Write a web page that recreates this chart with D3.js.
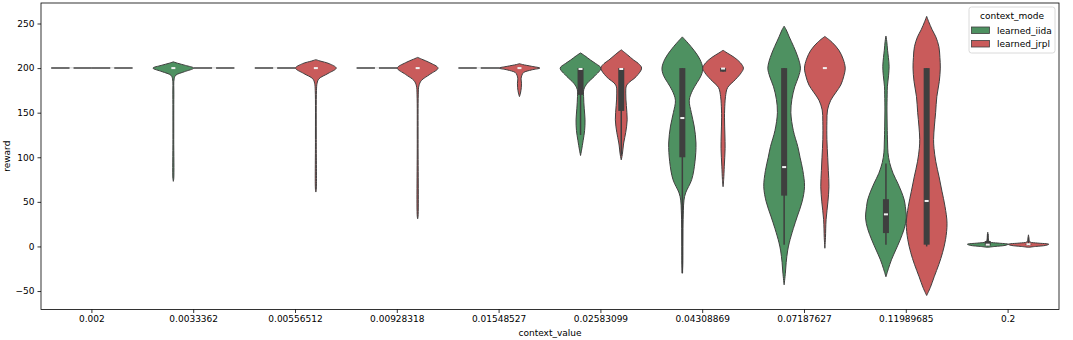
<!DOCTYPE html>
<html lang="en">
<head>
<meta charset="utf-8">
<title>reward by context_value</title>
<script src="https://d3js.org/d3.v7.min.js"></script>
<style>
  body { margin: 0; background: #fff; }
  text { font-family: "DejaVu Sans", sans-serif; fill: #000; }
</style>
</head>
<body>
<div id="chart"></div>
<script>

// categories on the x axis
const categories = ["0.002", "0.0033362", "0.00556512", "0.00928318", "0.01548527",
                    "0.02583099", "0.04308869", "0.07187627", "0.11989685", "0.2"];
const modes = ["learned_iida", "learned_jrpl"];
const colors = ["#4e9161", "#c95b5b"];
const yTicks = [-50, 0, 50, 100, 150, 200, 250];

// violin outlines: [reward, relative half width]
// a single point means every run had the same reward (drawn as a flat line)
const iidaShapes = [
  [[200, 1]],
  [[73,0],[76,0.02],[120,0.02],[170,0.025],[188,0.04],[192,0.12],[196,0.55],[200,1],[203,0.6],[205.5,0.2],[207,0]],
  [[200, 1]],
  [[200, 1]],
  [[200, 1]],
  [[102,0],[108,0.05],[119,0.13],[130,0.2],[142,0.22],[155,0.18],[168,0.15],[176,0.16],[183,0.33],[191,0.69],[200,1],[205,0.75],[209,0.49],[214,0.2],[217,0]],
  [[-30,0],[-20,0.02],[0,0.025],[20,0.03],[40,0.05],[52,0.08],[60,0.16],[75,0.46],[95,0.62],[116,0.67],[135,0.58],[150,0.44],[164,0.34],[175,0.5],[184,0.73],[192,0.93],[200,1],[210,0.86],[220,0.57],[228,0.28],[232,0.12],[235,0]],
  [[-43,0],[-30,0.06],[-18,0.1],[-5,0.17],[4,0.25],[20,0.45],[34,0.65],[50,0.88],[67,1],[85,0.92],[100,0.78],[112,0.67],[130,0.45],[150,0.33],[165,0.38],[179,0.52],[190,0.7],[200,0.8],[212,0.68],[224,0.47],[235,0.25],[243,0.1],[247,0]],
  [[-34,0],[-25,0.12],[-15,0.27],[-4,0.48],[7,0.69],[20,0.9],[32,1],[45,0.95],[52,0.9],[62,0.75],[71,0.58],[82,0.35],[94,0.18],[105,0.1],[116,0.08],[135,0.06],[153,0.05],[170,0.06],[179,0.07],[192,0.13],[202,0.155],[212,0.12],[220,0.08],[230,0.04],[236,0]],
  [[-1,0],[0,0.35],[1.2,0.85],[2.5,1],[3.8,0.5],[5,0.1],[7,0.04],[10,0.025],[14,0.015],[16,0]]
];
const jrplShapes = [
  [[200, 1]],
  [[200, 1]],
  [[61,0],[64,0.02],[120,0.02],[175,0.03],[183,0.06],[188,0.15],[194,0.6],[200,1],[205,0.65],[208,0.2],[209.5,0]],
  [[31,0],[34,0.02],[120,0.02],[170,0.03],[180,0.06],[186,0.18],[193,0.6],[200,1],[206,0.6],[210,0.2],[212,0]],
  [[168,0],[172,0.05],[178,0.09],[183,0.1],[188,0.08],[192,0.12],[195,0.2],[198,0.6],[200,1],[202,0.6],[204,0.15],[205,0]],
  [[97,0],[103,0.05],[116,0.12],[128,0.22],[142,0.29],[158,0.25],[172,0.22],[181,0.27],[190.6,0.74],[200,1],[205,0.85],[209,0.61],[215,0.3],[220.5,0]],
  [[67,0],[75,0.03],[90,0.06],[110,0.1],[125,0.09],[145,0.07],[160,0.09],[168,0.12],[178,0.22],[187,0.6],[195,0.9],[200,1],[206,0.85],[212,0.55],[217,0.2],[220,0]],
  [[-2,0],[10,0.03],[30,0.06],[50,0.15],[67,0.2],[85,0.17],[100,0.14],[120,0.1],[140,0.1],[153,0.13],[164,0.29],[173,0.55],[181,0.78],[191,0.93],[200,1],[210,0.9],[220,0.69],[229,0.35],[235.5,0]],
  [[-55,0],[-46,0.18],[-34,0.37],[-20,0.6],[-7,0.78],[8,0.93],[26,1],[45,0.9],[62,0.75],[78,0.61],[95,0.45],[110,0.36],[120,0.34],[135,0.38],[150,0.44],[168,0.5],[185,0.62],[200,0.67],[212,0.65],[224,0.6],[235,0.45],[243,0.27],[252,0.1],[258,0]],
  [[-1,0],[0,0.35],[1.2,0.85],[2.5,1],[3.8,0.45],[5,0.08],[7,0.03],[10,0.02],[13,0]]
];

// inner box: [whisker low, q1, median, q3, whisker high]
const iidaBoxes = [
  [200,200,200,200,200], [200,200,200,200,200], [200,200,200,200,200],
  [200,200,200,200,200], [200,200,200,200,200],
  [125,170,199,200,200], [-30,100,144,200,200], [2,57,89,200,200],
  [2,15,36,53,93], [0,1,2,6,14]
];
const jrplBoxes = [
  [200,200,200,200,200], [200,200,200,200,200], [200,200,200,200,200],
  [200,200,200,200,200], [200,200,200,200,200],
  [102,152,199,200,200], [196,196,199.5,200,200], [200,200,200,200,200],
  [0,2,51,200,200], [1,2,2.5,3,10]
];

const shapes = [iidaShapes, jrplShapes];
const boxes = [iidaBoxes, jrplBoxes];

const width = 1073, height = 340;
const plotLeft = 41, plotRight = 1059, plotTop = 3, plotBottom = 309.5;
const lineColor = "#3f3f3f";

const svg = d3.select("#chart").append("svg")
    .attr("width", width)
    .attr("height", height);

const x = d3.scaleBand().domain(categories).range([plotLeft, plotRight]);
const hue = d3.scaleBand().domain(modes).range([0.1 * x.bandwidth(), 0.9 * x.bandwidth()]);
const w = d3.scaleLinear().domain([0, 1]).range([0, hue.bandwidth() / 2]);
const y = d3.scaleLinear().domain([-70.7, 273]).range([plotBottom, plotTop]);

// axes
const yAxis = svg.append("g")
    .attr("transform", `translate(${plotLeft},0)`)
    .call(d3.axisLeft(y).tickValues(yTicks).tickSize(3.5).tickPadding(3));
const xAxis = svg.append("g")
    .attr("transform", `translate(0,${plotBottom})`)
    .call(d3.axisBottom(x).tickSize(3.5).tickPadding(3));
[yAxis, xAxis].forEach(g => {
    g.select(".domain").remove();
    g.selectAll(".tick line").attr("stroke", "#000").attr("stroke-width", 0.8);
    g.selectAll(".tick text").style("font-size", "9px").attr("fill", "#000");
});

// violins
const area = d3.area()
    .curve(d3.curveCatmullRom)
    .y(d => y(d[0]));

modes.forEach((mode, m) => {
    categories.forEach((cat, i) => {
        const cx = x(cat) + hue(mode) + hue.bandwidth() / 2;
        const shape = shapes[m][i];
        const g = svg.append("g");

        if (shape.length === 1) {
            g.append("line")
                .attr("x1", cx - w(shape[0][1])).attr("x2", cx + w(shape[0][1]))
                .attr("y1", y(shape[0][0])).attr("y2", y(shape[0][0]))
                .attr("stroke", lineColor)
                .attr("stroke-width", 1.5);
        } else {
            g.append("path")
                .datum(shape)
                .attr("d", area.x0(d => cx - w(d[1])).x1(d => cx + w(d[1])))
                .attr("fill", colors[m])
                .attr("stroke", lineColor)
                .attr("stroke-width", 1);
        }

        const [lo, q1, med, q3, hi] = boxes[m][i];
        if (hi > lo) {
            g.append("line")
                .attr("x1", cx).attr("x2", cx)
                .attr("y1", y(hi)).attr("y2", y(lo))
                .attr("stroke", lineColor)
                .attr("stroke-width", 1.5);
        }
        if (q3 > q1) {
            g.append("rect")
                .attr("x", cx - 3).attr("width", 6)
                .attr("y", y(q3)).attr("height", y(q1) - y(q3))
                .attr("fill", lineColor);
        }
        g.append("rect")
            .attr("x", cx - 2).attr("width", 4)
            .attr("y", y(med) - 1).attr("height", 2)
            .attr("fill", "#f2f2f2");
    });
});

// frame
svg.append("rect")
    .attr("x", plotLeft).attr("y", plotTop)
    .attr("width", plotRight - plotLeft).attr("height", plotBottom - plotTop)
    .attr("fill", "none")
    .attr("stroke", "#000")
    .attr("stroke-width", 0.8);

// axis titles
svg.append("text")
    .attr("transform", `translate(10,${(plotTop + plotBottom) / 2}) rotate(-90)`)
    .attr("text-anchor", "middle")
    .style("font-size", "9px")
    .text("reward");
svg.append("text")
    .attr("x", (plotLeft + plotRight) / 2)
    .attr("y", 336)
    .attr("text-anchor", "middle")
    .style("font-size", "9px")
    .text("context_value");

// legend
const legend = svg.append("g").attr("transform", "translate(969,7)");
legend.append("rect")
    .attr("width", 86).attr("height", 46)
    .attr("rx", 2.5)
    .attr("fill", "#fff").attr("fill-opacity", 0.8)
    .attr("stroke", "#d0d0d0").attr("stroke-width", 0.8);
legend.append("text")
    .attr("x", 43).attr("y", 12)
    .attr("text-anchor", "middle")
    .style("font-size", "9px")
    .text("context_mode");
modes.forEach((mode, m) => {
    legend.append("rect")
        .attr("x", 2.5).attr("y", 20 + m * 13.5)
        .attr("width", 18).attr("height", 6.5)
        .attr("fill", colors[m])
        .attr("stroke", lineColor).attr("stroke-width", 0.8);
    legend.append("text")
        .attr("x", 28).attr("y", 26.5 + m * 13.5)
        .style("font-size", "9px")
        .text(mode);
});

</script>
</body>
</html>
